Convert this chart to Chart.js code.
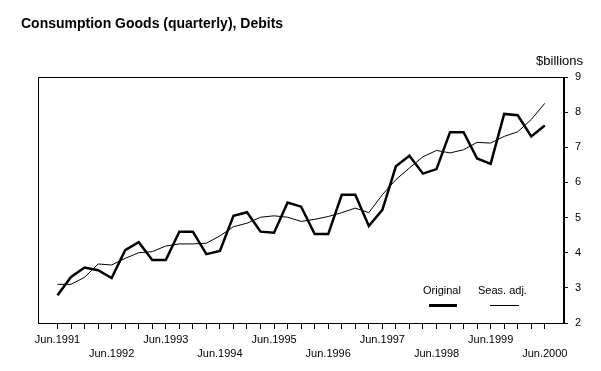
<!DOCTYPE html>
<html>
<head>
<meta charset="utf-8">
<script src="https://cdn.jsdelivr.net/npm/chart.js@4/dist/chart.umd.min.js"></script>
<style>
  html, body { margin: 0; padding: 0; background: #fff; }
</style>
</head>
<body>
<canvas id="chart" width="601" height="371"></canvas>
<script>
// June of each year gets a label; quarters in between are tick marks only
const years = ['1991', '1992', '1993', '1994', '1995', '1996', '1997', '1998', '1999', '2000'];
const tickLabels = years.map(y => 'Jun.' + y);

// $billions, quarterly Jun.1991 .. Jun.2000
const original = [2.79, 3.31, 3.58, 3.50, 3.28, 4.07, 4.30, 3.79, 3.79, 4.60, 4.60, 3.96, 4.05,
  5.05, 5.15, 4.60, 4.57, 5.43, 5.31, 4.53, 4.53, 5.65, 5.65, 4.76, 5.22, 6.46, 6.76, 6.25,
  6.38, 7.43, 7.43, 6.68, 6.53, 7.95, 7.91, 7.31, 7.62];
const seasAdj = [3.10, 3.10, 3.30, 3.68, 3.65, 3.84, 4.00, 4.03, 4.19, 4.25, 4.25, 4.27, 4.48,
  4.74, 4.84, 5.01, 5.05, 5.01, 4.89, 4.95, 5.03, 5.14, 5.27, 5.14, 5.65, 6.08, 6.41, 6.73,
  6.91, 6.84, 6.93, 7.14, 7.12, 7.31, 7.44, 7.79, 8.25];

const FONT = "'Liberation Sans', Arial, sans-serif";

const toPoints = arr => arr.map((v, i) => ({ x: i, y: v }));

// frame, heading, unit label and the little legend under the lines
const decorations = {
  id: 'decorations',
  afterDraw(chart) {
    const { ctx, chartArea: a } = chart;
    ctx.save();
    ctx.strokeStyle = '#000';
    ctx.lineWidth = 1;
    ctx.strokeRect(Math.round(a.left) + 0.5, Math.round(a.top) + 0.5,
      Math.round(a.right - a.left), Math.round(a.bottom - a.top));

    ctx.fillStyle = '#000';
    ctx.font = 'bold 14px ' + FONT;
    ctx.textBaseline = 'alphabetic';
    ctx.textAlign = 'left';
    ctx.fillText('Consumption Goods (quarterly), Debits', 21, 28);

    ctx.font = '13px ' + FONT;
    ctx.textAlign = 'right';
    ctx.textBaseline = 'middle';
    ctx.fillText('$billions', 583, 61);

    const items = [
      { text: chart.data.datasets[0].label, tx: 423, x0: 429, x1: 457, w: 3 },
      { text: chart.data.datasets[1].label, tx: 478, x0: 490, x1: 519, w: 1 }
    ];
    ctx.font = '11px ' + FONT;
    ctx.textAlign = 'left';
    items.forEach(it => {
      ctx.fillText(it.text, it.tx, 291);
      ctx.beginPath();
      ctx.lineWidth = it.w;
      ctx.moveTo(it.x0, 305.5);
      ctx.lineTo(it.x1, 305.5);
      ctx.stroke();
    });
    ctx.restore();
  }
};

new Chart(document.getElementById('chart'), {
  type: 'line',
  data: {
    datasets: [
      { label: 'Original', data: toPoints(original), borderColor: '#000', borderWidth: 2.5,
        pointRadius: 0, tension: 0, fill: false },
      { label: 'Seas. adj.', data: toPoints(seasAdj), borderColor: '#000', borderWidth: 1,
        pointRadius: 0, tension: 0, fill: false }
    ]
  },
  options: {
    responsive: false,
    animation: false,
    devicePixelRatio: 1,
    layout: { padding: { left: 38, right: 13, top: 77, bottom: 6 } },
    plugins: {
      legend: { display: false },
      title: { display: false },
      tooltip: { enabled: false }
    },
    scales: {
      x: {
        type: 'linear',
        min: -1.44,
        max: 37.41,
        afterBuildTicks(scale) {
          scale.ticks = original.map((_, i) => ({ value: i }));
        },
        ticks: {
          autoSkip: false,
          maxRotation: 0,
          padding: 4,
          color: '#000',
          font: { family: FONT, size: 11, lineHeight: 14 / 11 },
          callback(value) {
            if (value % 4 !== 0) return '';
            const k = value / 4;
            return k % 2 === 0 ? tickLabels[k] : ['', tickLabels[k]];
          }
        },
        grid: { drawOnChartArea: false, drawTicks: true, tickLength: 6, color: '#000' },
        border: { display: true, color: '#000' }
      },
      y: {
        position: 'right',
        min: 2,
        max: 9,
        ticks: {
          stepSize: 1,
          padding: 7,
          color: '#000',
          font: { family: FONT, size: 11 }
        },
        grid: { drawOnChartArea: false, drawTicks: true, tickLength: 4, color: '#000' },
        border: { display: true, color: '#000' }
      }
    }
  },
  plugins: [decorations]
});
</script>
</body>
</html>
